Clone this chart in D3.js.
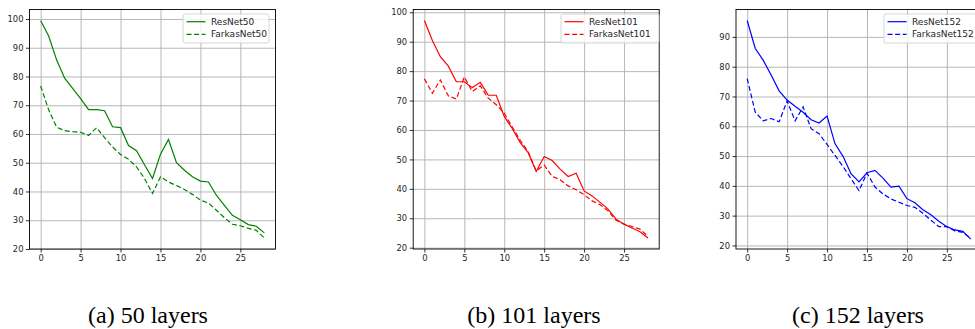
<html>
  <head>
    <script src='https://d3js.org/d3.v7.min.js'></script>
    <style>
      body { margin: 0; background: #fff; }
      .tick text { font-family: 'DejaVu Sans', sans-serif; font-size: 8.4px; fill: #262626; }
      .grid line { stroke: #b0b0b0; stroke-width: 0.9; }
      .grid path { display: none; }
      text.caption { font-family: "Liberation Serif", "DejaVu Serif", serif; font-size: 24px; }
    </style>
  </head>
  <body>
    <svg width=975 height=329></svg>
    <script>
      // values, epoch index 0..28
      const resnet50 = [99.4, 94.1, 85.7, 79.4, 75.9, 72.3, 68.5, 68.5, 68.1, 62.5, 62.2, 56.0, 54.2, 49.3, 44.5,
        53.0, 58.1, 50.0, 47.4, 45.1, 43.6, 43.3, 38.7, 35.2, 31.7, 30.2, 28.5, 27.9, 25.6];
      const farkas50 = [76.7, 68.4, 62.3, 61.2, 60.8, 60.6, 59.5, 62.2, 58.7, 55.5, 52.9, 51.2, 48.6, 44.5, 39.3,
        45.1, 43.3, 42.1, 40.7, 39.0, 37.0, 36.0, 33.5, 30.9, 28.6, 28.1, 27.2, 26.5, 23.8];
      const resnet101 = [97.2, 90.4, 84.9, 81.7, 76.4, 76.4, 74.4, 76.2, 71.8, 71.8, 64.6, 60.5, 55.7, 52.3, 45.9,
        51.0, 49.6, 46.7, 44.2, 45.3, 39.3, 37.6, 35.4, 33.1, 29.7, 28.0, 26.7, 25.4, 23.3];
      const farkas101 = [77.4, 72.5, 77.0, 71.6, 70.5, 78.0, 73.1, 75.0, 70.8, 68.6, 65.7, 61.0, 56.5, 52.5, 46.1,
        48.1, 44.2, 43.1, 41.0, 39.7, 38.0, 35.9, 34.6, 32.5, 29.3, 28.0, 27.2, 26.3, 23.8];
      const resnet152 = [95.5, 86.2, 82.2, 77.2, 71.9, 68.8, 66.7, 64.7, 62.2, 61.1, 63.4, 54.1, 49.9, 44.1, 41.3,
        44.4, 45.2, 42.6, 39.6, 39.9, 35.7, 34.3, 32.0, 30.3, 28.1, 26.3, 25.2, 24.7, 22.1];
      const farkas152 = [76.0, 64.8, 61.8, 62.6, 61.5, 68.5, 61.8, 66.5, 59.2, 57.5, 53.9, 50.2, 46.5, 42.4, 38.4,
        44.3, 39.6, 37.3, 35.6, 34.5, 33.4, 32.8, 30.8, 28.5, 26.3, 26.3, 24.9, 24.4, 22.4];

      const xTicks = [0, 5, 10, 15, 20, 25];
      const yTicksA = [20, 30, 40, 50, 60, 70, 80, 90, 100];
      const yTicksC = [20, 30, 40, 50, 60, 70, 80, 90];
      const captions = ['(a) 50 layers', '(b) 101 layers', '(c) 152 layers'];

      const panels = [
        {left: 29.5, yDom: [20, 103.3], yTicks: yTicksA, color: 'green',
          series: [['ResNet50', resnet50, null], ['FarkasNet50', farkas50, '5,2.6']],
          legend: {x: 183, w: 86}, cap: 148},
        {left: 413.2, yDom: [19.55, 100.95], yTicks: yTicksA, color: 'red',
          series: [['ResNet101', resnet101, null], ['FarkasNet101', farkas101, '5,2.6']],
          legend: {x: 561, w: 98}, cap: 534},
        {left: 736, yDom: [18.8, 99.2], yTicks: yTicksC, color: 'blue',
          series: [['ResNet152', resnet152, null], ['FarkasNet152', farkas152, '5,2.6']],
          legend: {x: 884, w: 98}, cap: 858}
      ];

      const svg = d3.select('svg');
      const plotTop = 9.5, plotBottom = 249, plotW = 246;

      panels.forEach(function(p, k) {
        const x = d3.scaleLinear().domain([-1.4, 29.4]).range([p.left, p.left + plotW]);
        const y = d3.scaleLinear().domain(p.yDom).range([plotBottom, plotTop]);
        const g = svg.append('g');

        // grid
        g.append('g').attr('class', 'grid').attr('transform', 'translate(0,' + plotBottom + ')')
          .call(d3.axisBottom(x).tickValues(xTicks).tickSize(-(plotBottom - plotTop)).tickFormat(''));
        g.append('g').attr('class', 'grid').attr('transform', 'translate(' + p.left + ',0)')
          .call(d3.axisLeft(y).tickValues(p.yTicks).tickSize(-plotW).tickFormat(''));

        // lines
        const line = d3.line().x((d, i) => x(i)).y(d => y(d));
        p.series.forEach(function(s) {
          g.append('path').datum(s[1]).attr('d', line)
            .attr('fill', 'none').attr('stroke', p.color).attr('stroke-width', 1.2)
            .attr('stroke-dasharray', s[2]);
        });

        // axes
        const xa = g.append('g').attr('transform', 'translate(0,' + plotBottom + ')')
          .call(d3.axisBottom(x).tickValues(xTicks).tickSize(3.5).tickPadding(2.5));
        const ya = g.append('g').attr('transform', 'translate(' + p.left + ',0)')
          .call(d3.axisLeft(y).tickValues(p.yTicks).tickSize(3.5).tickPadding(2.5));
        [xa, ya].forEach(a => { a.select('.domain').remove(); a.selectAll('.tick line').attr('stroke', '#000').attr('stroke-width', 0.8); });
        g.append('rect').attr('x', p.left).attr('y', plotTop).attr('width', plotW).attr('height', plotBottom - plotTop)
          .attr('fill', 'none').attr('stroke', '#000').attr('stroke-width', 0.9);

        // legend
        const lg = g.append('g');
        lg.append('rect').attr('x', p.legend.x).attr('y', 14).attr('width', p.legend.w).attr('height', 29)
          .attr('rx', 2).attr('fill', '#fff').attr('fill-opacity', 0.8).attr('stroke', '#cccccc').attr('stroke-width', 0.8);
        p.series.forEach(function(s, i) {
          const yy = 21.7 + i * 12.6;
          lg.append('line').attr('x1', p.legend.x + 3.5).attr('x2', p.legend.x + 22.5).attr('y1', yy).attr('y2', yy)
            .attr('stroke', p.color).attr('stroke-width', 1.2).attr('stroke-dasharray', s[2]);
          lg.append('text').attr('x', p.legend.x + 28).attr('y', yy).attr('dy', '0.35em')
            .style('font-family', "'DejaVu Sans', sans-serif").style('font-size', '9px').attr('fill', '#262626')
            .text(s[0]);
        });

        // caption
        svg.append('text').attr('class', 'caption').attr('x', p.cap).attr('y', 323).attr('text-anchor', 'middle')
          .attr('fill', '#000').text(captions[k]);
      });
    </script>
  </body>
</html>
